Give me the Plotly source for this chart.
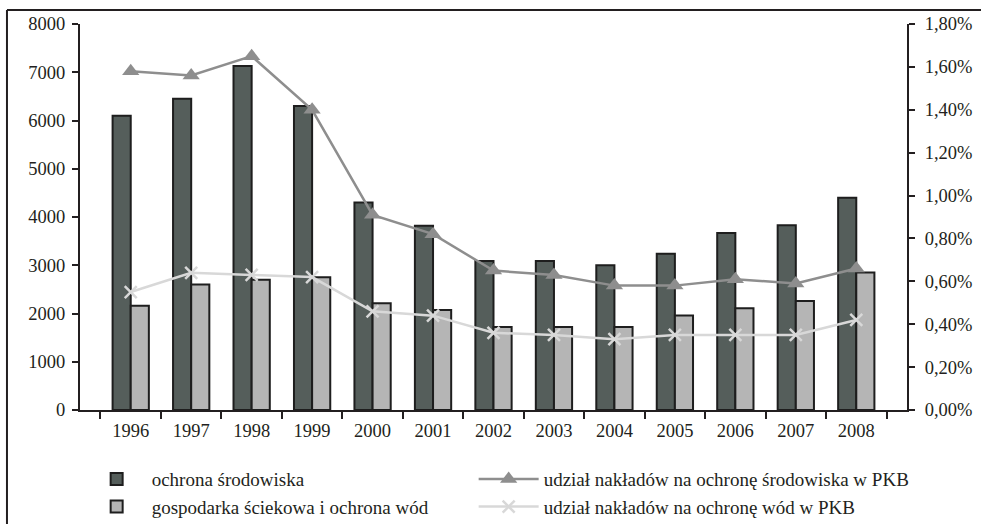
import plotly.graph_objects as go

# Dane: nakłady na ochronę środowiska (mln zł) i ich udział w PKB
years = ["1996", "1997", "1998", "1999", "2000", "2001", "2002",
         "2003", "2004", "2005", "2006", "2007", "2008"]
ochrona_srodowiska = [6100, 6450, 7130, 6300, 4300, 3820, 3090,
                      3090, 3000, 3240, 3670, 3830, 4400]
gospodarka_sciekowa = [2160, 2600, 2700, 2750, 2210, 2070, 1720,
                       1720, 1720, 1960, 2110, 2260, 2850]
udzial_srodowisko_pkb = [0.0158, 0.0156, 0.0165, 0.0140, 0.0091, 0.0082, 0.0065,
                         0.0063, 0.0058, 0.0058, 0.0061, 0.0059, 0.0066]
udzial_wody_pkb = [0.0055, 0.0064, 0.0063, 0.0062, 0.0046, 0.0044, 0.0036,
                   0.0035, 0.0033, 0.0035, 0.0035, 0.0035, 0.0042]

FONT = "'Liberation Serif', 'DejaVu Serif', serif"
TXT = "#231f20"
OUTLINE = "#1e1e1e"
FS = 18.5

fig = go.Figure()

fig.add_trace(go.Bar(
    x=years, y=ochrona_srodowiska, name="ochrona środowiska",
    marker=dict(color="#555e5b", line=dict(color=OUTLINE, width=2)),
    legend="legend",
))
fig.add_trace(go.Bar(
    x=years, y=gospodarka_sciekowa, name="gospodarka ściekowa i ochrona wód",
    marker=dict(color="#b5b5b5", line=dict(color=OUTLINE, width=2)),
    legend="legend",
))
fig.add_trace(go.Scatter(
    x=years, y=udzial_srodowisko_pkb, yaxis="y2", mode="lines+markers",
    name="udział nakładów na ochronę środowiska w PKB",
    line=dict(color="#8e8e8e", width=2.5),
    marker=dict(symbol="triangle-up", size=15, color="#8e8e8e"),
    legend="legend2",
))
fig.add_trace(go.Scatter(
    x=years, y=udzial_wody_pkb, yaxis="y2", mode="lines+markers",
    name="udział nakładów na ochronę wód w PKB",
    line=dict(color="#d8d8d8", width=2.5),
    marker=dict(symbol="x-thin", size=12, color="#d8d8d8",
                line=dict(color="#d8d8d8", width=2.5)),
    legend="legend2",
))

# Obramowanie: górna i lewa krawędź ramki
frame = dict(type="line", xref="paper", yref="paper",
             line=dict(color="#231f20", width=2))
fig.add_shape(**frame, x0=-0.0883, y0=1.0363, x1=1.2, y1=1.0363)
fig.add_shape(**frame, x0=-0.0883, y0=1.0363, x1=-0.0883, y1=-0.5)

legend_common = dict(
    font=dict(family=FONT, size=19, color=TXT),
    bgcolor="rgba(0,0,0,0)", itemwidth=60, tracegroupgap=0,
    xanchor="left", yanchor="top", orientation="v",
    yref="container", y=0.122,
)

fig.update_layout(
    width=981, height=524,
    margin=dict(l=80, r=74, t=24, b=114, autoexpand=False),
    paper_bgcolor="white", plot_bgcolor="white",
    font=dict(family=FONT, size=FS, color=TXT),
    separators=", ",
    barmode="group", bargap=0.4, bargroupgap=0,
    showlegend=True,
    legend=dict(**legend_common, x=0.002),
    legend2=dict(**legend_common, x=0.476),
    xaxis=dict(
        type="category", showgrid=False,
        showline=True, linecolor="#231f20", linewidth=2,
        ticks="outside", ticklen=7, tickcolor="#231f20", tickwidth=2,
        tickson="boundaries", ticklabelstandoff=3,
        tickfont=dict(family=FONT, size=FS, color=TXT),
    ),
    yaxis=dict(
        range=[0, 8000], dtick=1000, showgrid=False, zeroline=False,
        showline=True, linecolor="#231f20", linewidth=2,
        ticks="outside", ticklen=6, tickcolor="#231f20", tickwidth=2,
        tickfont=dict(family=FONT, size=FS, color=TXT),
        ticklabelstandoff=3,
    ),
    yaxis2=dict(
        range=[0, 0.018], dtick=0.002, tickformat=".2%",
        overlaying="y", side="right", showgrid=False, zeroline=False,
        showline=True, linecolor="#231f20", linewidth=2,
        ticks="outside", ticklen=6, tickcolor="#231f20", tickwidth=2,
        tickfont=dict(family=FONT, size=FS, color=TXT),
        ticklabelstandoff=6,
    ),
)

fig.write_html("out.html")
